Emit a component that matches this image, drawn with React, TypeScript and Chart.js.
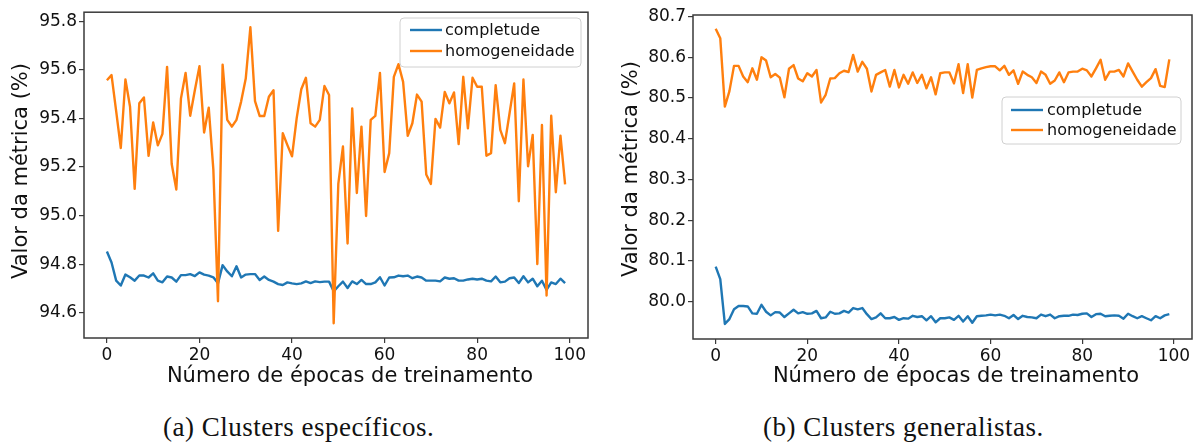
import React, { useEffect, useRef } from "react";
import { Chart, registerables } from "chart.js";

Chart.register(...registerables);

// ---------- data ----------
const xTickValues = [0, 20, 40, 60, 80, 100];
const leftYTickValues = [94.6, 94.8, 95.0, 95.2, 95.4, 95.6, 95.8];
const rightYTickValues = [80.0, 80.1, 80.2, 80.3, 80.4, 80.5, 80.6, 80.7];

const seriesNames = ["completude", "homogeneidade"];
const xAxisTitle = "Número de épocas de treinamento";
const yAxisTitle = "Valor da métrica (%)";
const captionA = "(a) Clusters específicos.";
const captionB = "(b) Clusters generalistas.";

const leftCompletude = [
  94.852, 94.807, 94.732, 94.712, 94.757, 94.746, 94.732, 94.753, 94.753, 94.745,
  94.762, 94.732, 94.725, 94.749, 94.745, 94.728, 94.755, 94.755, 94.759, 94.751,
  94.766, 94.757, 94.753, 94.746, 94.721, 94.796, 94.770, 94.750, 94.791, 94.745,
  94.757, 94.759, 94.759, 94.735, 94.749, 94.735, 94.728, 94.718, 94.714, 94.725,
  94.721, 94.718, 94.721, 94.729, 94.722, 94.729, 94.726, 94.728, 94.728, 94.688,
  94.709, 94.728, 94.702, 94.729, 94.718, 94.735, 94.718, 94.718, 94.725, 94.746,
  94.712, 94.745, 94.746, 94.753, 94.750, 94.753, 94.742, 94.749, 94.745, 94.732,
  94.732, 94.732, 94.729, 94.745, 94.740, 94.742, 94.732, 94.732, 94.737, 94.740,
  94.737, 94.740, 94.732, 94.729, 94.749, 94.725, 94.728, 94.742, 94.745, 94.722,
  94.750, 94.725, 94.740, 94.709, 94.732, 94.694, 94.725, 94.718, 94.740, 94.722,
];

const leftHomogeneidade = [
  95.557, 95.578, 95.430, 95.278, 95.560, 95.448, 95.110, 95.462, 95.486, 95.246,
  95.383, 95.289, 95.336, 95.612, 95.212, 95.107, 95.482, 95.587, 95.411, 95.516,
  95.615, 95.342, 95.444, 95.189, 94.647, 95.621, 95.394, 95.366, 95.394, 95.469,
  95.564, 95.775, 95.471, 95.410, 95.410, 95.489, 95.516, 94.937, 95.339, 95.290,
  95.244, 95.400, 95.520, 95.567, 95.380, 95.366, 95.394, 95.533, 95.496, 94.557,
  95.130, 95.284, 94.885, 95.441, 95.093, 95.366, 94.998, 95.394, 95.410, 95.587,
  95.179, 95.257, 95.571, 95.623, 95.550, 95.328, 95.380, 95.498, 95.469, 95.169,
  95.130, 95.398, 95.362, 95.509, 95.462, 95.507, 95.294, 95.571, 95.359, 95.567,
  95.530, 95.530, 95.246, 95.257, 95.537, 95.353, 95.298, 95.421, 95.544, 95.059,
  95.560, 95.203, 95.332, 94.800, 95.373, 94.671, 95.411, 95.096, 95.329, 95.128,
];

const rightCompletude = [
  80.086, 80.055, 79.945, 79.957, 79.981, 79.989, 79.989, 79.988, 79.971, 79.970,
  79.992, 79.975, 79.966, 79.974, 79.973, 79.962, 79.971, 79.980, 79.971, 79.974,
  79.970, 79.971, 79.977, 79.959, 79.961, 79.975, 79.970, 79.971, 79.977, 79.973,
  79.984, 79.981, 79.984, 79.969, 79.957, 79.961, 79.971, 79.959, 79.959, 79.962,
  79.955, 79.959, 79.958, 79.965, 79.962, 79.964, 79.954, 79.964, 79.949, 79.959,
  79.959, 79.961, 79.955, 79.965, 79.951, 79.964, 79.948, 79.964, 79.965, 79.966,
  79.968, 79.966, 79.968, 79.965, 79.959, 79.967, 79.957, 79.965, 79.962, 79.961,
  79.959, 79.968, 79.964, 79.968, 79.959, 79.964, 79.965, 79.965, 79.968, 79.967,
  79.970, 79.971, 79.962, 79.969, 79.970, 79.964, 79.965, 79.966, 79.965, 79.958,
  79.970, 79.964, 79.959, 79.964, 79.959, 79.954, 79.964, 79.959, 79.966, 79.969,
];

const rightHomogeneidade = [
  80.670, 80.647, 80.479, 80.517, 80.579, 80.579, 80.553, 80.539, 80.573, 80.545,
  80.600, 80.592, 80.551, 80.559, 80.550, 80.502, 80.572, 80.581, 80.548, 80.541,
  80.561, 80.553, 80.569, 80.489, 80.508, 80.548, 80.549, 80.561, 80.567, 80.564,
  80.606, 80.565, 80.589, 80.572, 80.516, 80.557, 80.563, 80.569, 80.528, 80.569,
  80.526, 80.557, 80.535, 80.563, 80.537, 80.557, 80.524, 80.551, 80.509, 80.561,
  80.563, 80.563, 80.536, 80.583, 80.512, 80.583, 80.501, 80.569, 80.573, 80.576,
  80.578, 80.578, 80.568, 80.579, 80.557, 80.568, 80.535, 80.565, 80.557, 80.551,
  80.537, 80.565, 80.557, 80.535, 80.543, 80.563, 80.539, 80.563, 80.565, 80.565,
  80.572, 80.568, 80.553, 80.573, 80.594, 80.545, 80.565, 80.565, 80.569, 80.553,
  80.585, 80.565, 80.545, 80.528, 80.539, 80.549, 80.571, 80.530, 80.527, 80.595,
];

// ---------- styling ----------
const BLUE = "#1f77b4";
const ORANGE = "#ff7f0e";
const FONT = '"DejaVu Sans", sans-serif';
const TEXT = "#111111";
const SPINE = "#3a3a3a";
const LINE_W = 2.4;

type PanelCfg = {
  width: number;
  height: number;
  areaLeft: number;
  areaTop: number;
  areaRight: number;
  areaBottom: number;
  xMin: number;
  xMax: number;
  yMin: number;
  yMax: number;
  yTicks: number[];
  completude: number[];
  homogeneidade: number[];
  legend: { x: number; y: number; w: number; h: number; rows: number[]; lineX: number; textX: number };
  xTitlePos: [number, number];
  yTitlePos: [number, number];
};

const decorPlugin = {
  id: "decor",
  afterDraw(chart: any, _args: any, opts: any) {
    const { ctx, chartArea: a } = chart;
    ctx.save();
    // frame (all four spines)
    ctx.strokeStyle = SPINE;
    ctx.lineWidth = 1.5;
    ctx.strokeRect(a.left, a.top, a.right - a.left, a.bottom - a.top);

    // legend
    const L = opts.legend;
    const r = 4;
    ctx.beginPath();
    ctx.moveTo(L.x + r, L.y);
    ctx.lineTo(L.x + L.w - r, L.y);
    ctx.arcTo(L.x + L.w, L.y, L.x + L.w, L.y + r, r);
    ctx.lineTo(L.x + L.w, L.y + L.h - r);
    ctx.arcTo(L.x + L.w, L.y + L.h, L.x + L.w - r, L.y + L.h, r);
    ctx.lineTo(L.x + r, L.y + L.h);
    ctx.arcTo(L.x, L.y + L.h, L.x, L.y + L.h - r, r);
    ctx.lineTo(L.x, L.y + r);
    ctx.arcTo(L.x, L.y, L.x + r, L.y, r);
    ctx.closePath();
    ctx.fillStyle = "rgba(255,255,255,0.8)";
    ctx.fill();
    ctx.strokeStyle = "#d0d0d0";
    ctx.lineWidth = 1;
    ctx.stroke();

    const dsets = chart.data.datasets;
    ctx.font = `16px ${FONT}`;
    ctx.textAlign = "left";
    ctx.textBaseline = "middle";
    dsets.forEach((ds: any, i: number) => {
      const yy = L.rows[i];
      ctx.strokeStyle = ds.borderColor;
      ctx.lineWidth = LINE_W;
      ctx.beginPath();
      ctx.moveTo(L.lineX, yy);
      ctx.lineTo(L.lineX + 32, yy);
      ctx.stroke();
      ctx.fillStyle = TEXT;
      ctx.fillText(ds.label, L.textX, yy + 1);
    });

    // axis titles
    ctx.fillStyle = TEXT;
    ctx.font = `21px ${FONT}`;
    ctx.textAlign = "center";
    ctx.textBaseline = "middle";
    ctx.fillText(opts.xTitle, opts.xTitlePos[0], opts.xTitlePos[1]);
    ctx.translate(opts.yTitlePos[0], opts.yTitlePos[1]);
    ctx.rotate(-Math.PI / 2);
    ctx.fillText(opts.yTitle, 0, 0);
    ctx.restore();
  },
};

function Panel({ cfg }: { cfg: PanelCfg }) {
  const ref = useRef<HTMLCanvasElement | null>(null);
  useEffect(() => {
    if (!ref.current) return;
    const toPts = (arr: number[]) => arr.map((v, i) => ({ x: i, y: v }));
    const chart = new Chart(ref.current, {
      type: "line",
      data: {
        datasets: [
          {
            label: seriesNames[0],
            data: toPts(cfg.completude),
            borderColor: BLUE,
            backgroundColor: BLUE,
            borderWidth: LINE_W,
            pointRadius: 0,
            tension: 0,
            borderJoinStyle: "round",
            order: 1,
          },
          {
            label: seriesNames[1],
            data: toPts(cfg.homogeneidade),
            borderColor: ORANGE,
            backgroundColor: ORANGE,
            borderWidth: LINE_W,
            pointRadius: 0,
            tension: 0,
            borderJoinStyle: "round",
            order: 0,
          },
        ],
      },
      options: {
        animation: false,
        responsive: false,
        maintainAspectRatio: false,
        devicePixelRatio: 1,
        layout: {
          padding: {
            left: 0,
            top: cfg.areaTop,
            right: cfg.width - cfg.areaRight,
            bottom: 0,
          },
        },
        plugins: {
          legend: { display: false },
          tooltip: { enabled: false },
          decor: {
            legend: cfg.legend,
            xTitle: xAxisTitle,
            yTitle: yAxisTitle,
            xTitlePos: cfg.xTitlePos,
            yTitlePos: cfg.yTitlePos,
          },
        } as any,
        scales: {
          x: {
            type: "linear",
            min: cfg.xMin,
            max: cfg.xMax,
            afterBuildTicks: (axis: any) => {
              axis.ticks = xTickValues.map((v) => ({ value: v }));
            },
            afterFit: (axis: any) => {
              axis.height = cfg.height - cfg.areaBottom;
            },
            grid: {
              drawOnChartArea: false,
              drawTicks: true,
              tickLength: 5,
              color: SPINE,
              lineWidth: 1.2,
            },
            border: { display: false },
            ticks: {
              autoSkip: false,
              maxRotation: 0,
              padding: 2,
              color: TEXT,
              font: { family: FONT, size: 17 },
              callback: (v: any) => String(Math.round(Number(v))),
            },
          },
          y: {
            type: "linear",
            min: cfg.yMin,
            max: cfg.yMax,
            afterBuildTicks: (axis: any) => {
              axis.ticks = cfg.yTicks.map((v) => ({ value: v }));
            },
            afterFit: (axis: any) => {
              axis.width = cfg.areaLeft;
            },
            grid: {
              drawOnChartArea: false,
              drawTicks: true,
              tickLength: 5,
              color: SPINE,
              lineWidth: 1.2,
            },
            border: { display: false },
            ticks: {
              autoSkip: false,
              padding: 2,
              color: TEXT,
              font: { family: FONT, size: 17 },
              callback: (v: any) => Number(v).toFixed(1),
            },
          },
        },
      },
      plugins: [decorPlugin as any],
    } as any);
    return () => chart.destroy();
  }, [cfg]);
  return (
    <canvas
      ref={ref}
      width={cfg.width}
      height={cfg.height}
      style={{ width: cfg.width, height: cfg.height, display: "block" }}
    />
  );
}

const leftCfg: PanelCfg = {
  width: 600,
  height: 395,
  areaLeft: 84,
  areaTop: 10,
  areaRight: 588,
  areaBottom: 338,
  xMin: -4.95,
  xMax: 103.95,
  yMin: 94.496,
  yMax: 95.837,
  yTicks: leftYTickValues,
  completude: leftCompletude,
  homogeneidade: leftHomogeneidade,
  legend: { x: 400, y: 18, w: 181, h: 49, rows: [30, 51], lineX: 410, textX: 445 },
  xTitlePos: [350, 377],
  yTitlePos: [22, 171],
};

const rightCfg: PanelCfg = {
  width: 599,
  height: 395,
  areaLeft: 93,
  areaTop: 15,
  areaRight: 592,
  areaBottom: 339,
  xMin: -4.95,
  xMax: 103.95,
  yMin: 79.908,
  yMax: 80.704,
  yTicks: rightYTickValues,
  completude: rightCompletude,
  homogeneidade: rightHomogeneidade,
  legend: { x: 402, y: 97, w: 179, h: 47, rows: [110, 130], lineX: 411, textX: 447 },
  xTitlePos: [356, 377],
  yTitlePos: [32, 169],
};

const captionStyle: React.CSSProperties = {
  position: "absolute",
  top: 414,
  fontFamily: '"Liberation Serif", serif',
  fontSize: 27,
  lineHeight: "27px",
  letterSpacing: 0.5,
  color: "#111",
  whiteSpace: "nowrap",
};

export default function App() {
  return (
    <div
      style={{
        position: "absolute",
        left: 0,
        top: 0,
        width: 1199,
        height: 444,
        background: "#ffffff",
        overflow: "hidden",
      }}
    >
      <div style={{ position: "absolute", left: 0, top: 0 }}>
        <Panel cfg={leftCfg} />
      </div>
      <div style={{ position: "absolute", left: 600, top: 0 }}>
        <Panel cfg={rightCfg} />
      </div>
      <div style={{ ...captionStyle, left: 163 }}>{captionA}</div>
      <div style={{ ...captionStyle, left: 763 }}>{captionB}</div>
    </div>
  );
}
